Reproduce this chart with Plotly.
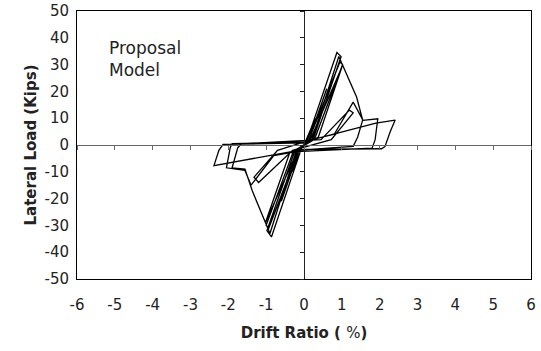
import plotly.graph_objects as go

# Hysteresis history (drift ratio %, lateral load kips)
drift = [0.0,
         0.3, 0.05, -0.05, -0.3, -0.05,
         0.1, 0.6, 0.12, -0.1, -0.6, -0.12,
         0.05, 0.87, 0.98, 0.25, -0.05, -0.86, -0.98, -0.25,
         0.1, 0.95, 1.02, 0.3, -0.12, -0.93, -1.0, -0.3,
         0.15, 1.0, 0.38, -0.15, -1.02, -0.38,
         0.2, 0.92, 1.39, 1.55, 1.42, 1.3, -0.2, -0.9, -1.37, -1.56, -1.9, -1.75, -1.65,
         0.45, 1.2, 1.3, 0.72, -0.3, -1.2, -1.32, -0.7,
         0.2, 0.8, 1.3, 1.56, 1.95, 1.88, 1.8, -0.2, -0.8, -1.4, -1.56, -2.05, -1.95, -1.9,
         0.0, 1.9, 2.41, 2.28, 2.14, 2.05, 0.0, -2.38, -2.25, -2.14, -1.0, 0.0]
load = [0.0,
        10, 0.5, -0.5, -10, -0.5,
        0.8, 21, 1.2, -0.8, -21, -1.2,
        0.5, 34.5, 33, 2.5, -0.5, -34.3, -32, -2.5,
        1.0, 31, 30, 3, -1.0, -31, -30, -3,
        1.5, 29, 3, -1.5, -29, -3,
        1.5, 33, 17.9, 9.3, 3, -0.5, -2, -33, -17, -9, -8.5, -1, 0.5,
        2, 13, 12, 2, -2, -14, -12, -2,
        2, 4, 16, 9.2, 9.8, 2, -1.2, -2.5, -4, -15, -9.5, -8.5, -1, 0.5,
        1.2, 8.2, 9.3, 5, -0.6, -1.4, -1.6, -7.7, -2, 0.2, 0.6, 0.8]

x_ticks = [-6, -5, -4, -3, -2, -1, 0, 1, 2, 3, 4, 5, 6]
y_ticks = [-50, -40, -30, -20, -10, 0, 10, 20, 30, 40, 50]

FONT = "DejaVu Sans"
TXT = "#222222"

fig = go.Figure()
fig.add_trace(go.Scatter(x=drift, y=load, mode="lines",
                         line=dict(color="black", width=1.3),
                         showlegend=False, hoverinfo="skip"))
# helper subplot for the axes crossing at zero
fig.add_trace(go.Scatter(x=[None], y=[None], xaxis="x2", yaxis="y2",
                         mode="lines", showlegend=False, hoverinfo="skip"))

fig.update_layout(
    width=541, height=351,
    margin=dict(l=77, r=10, t=11, b=72),
    paper_bgcolor="white", plot_bgcolor="white",
    showlegend=False,
    xaxis=dict(range=[-6, 6], tickvals=x_ticks, ticktext=[str(v) for v in x_ticks],
               automargin=False,
               showline=True, linecolor="black", linewidth=1, mirror=True,
               showgrid=False, zeroline=False,
               ticks="outside", ticklen=12, tickcolor="rgba(0,0,0,0)",
               tickfont=dict(family=FONT, size=15, color=TXT),
               title=dict(text="<b>Drift Ratio ( </b>%<b>)</b>", standoff=14,
                          font=dict(family=FONT, size=15, color=TXT))),
    yaxis=dict(range=[-50, 50], tickvals=y_ticks, ticktext=[str(v) for v in y_ticks],
               automargin=False,
               showline=True, linecolor="black", linewidth=1, mirror=True,
               showgrid=False, zeroline=False,
               ticks="outside", ticklen=4, tickcolor="rgba(0,0,0,0)",
               tickfont=dict(family=FONT, size=15, color=TXT),
               title=dict(text="<b>Lateral Load (Kips)</b>", standoff=4,
                          font=dict(family=FONT, size=15, color=TXT))),
    xaxis2=dict(range=[-6, 6], overlaying="x", anchor="free", position=0.5,
                tickvals=x_ticks, showticklabels=False, automargin=False,
                showline=True, linecolor="#666666", linewidth=1,
                ticks="outside", ticklen=4, tickcolor="#666666",
                showgrid=False, zeroline=False),
    yaxis2=dict(range=[-50, 50], overlaying="y", anchor="free", position=0.5,
                tickvals=y_ticks, showticklabels=False, automargin=False,
                showline=True, linecolor="#222222", linewidth=1,
                ticks="outside", ticklen=4, tickcolor="#222222",
                showgrid=False, zeroline=False),
    annotations=[dict(x=-5.2, y=40.5, xref="x", yref="y", xanchor="left", yanchor="top",
                      text="Proposal<br>Model", showarrow=False, align="left",
                      font=dict(family=FONT, size=17, color=TXT))],
)

fig.write_html("out.html")
